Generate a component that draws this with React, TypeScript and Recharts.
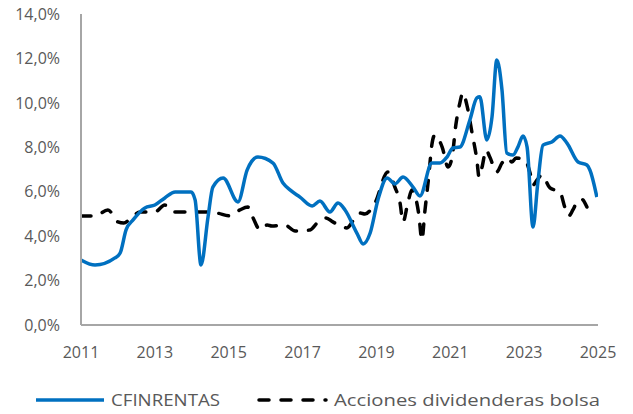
import React from 'react';
import { LineChart, Line, XAxis, YAxis, Legend } from 'recharts';

// CFINRENTAS (fecha en años decimales, rentabilidad %)
const fondoFechas = [
  2011.0, 2011.38, 2011.92, 2012.06, 2012.22, 2012.41, 2012.73, 2013.0, 2013.27, 2013.55,
  2013.98, 2014.09, 2014.25, 2014.44, 2014.57, 2014.85, 2015.25, 2015.5, 2015.79, 2016.2,
  2016.47, 2016.66, 2016.93, 2017.26, 2017.47, 2017.74, 2017.96, 2018.15, 2018.47, 2018.64,
  2018.83, 2019.04, 2019.29, 2019.5, 2019.72, 2019.99, 2020.18, 2020.5, 2020.72, 2020.91,
  2021.07, 2021.26, 2021.53, 2021.72, 2021.8, 2021.99, 2022.13, 2022.26, 2022.4, 2022.53,
  2022.7, 2022.83, 2022.97, 2023.08, 2023.24, 2023.37, 2023.51, 2023.75, 2023.97, 2024.16,
  2024.46, 2024.7, 2024.78, 2024.97,
];
const fondoValores = [
  2.93, 2.7, 3.02, 3.24, 4.28, 4.73, 5.27, 5.4, 5.72, 5.99,
  5.99, 5.63, 2.7, 4.86, 6.21, 6.62, 5.54, 6.98, 7.56, 7.29,
  6.39, 6.08, 5.76, 5.36, 5.58, 5.09, 5.49, 5.18, 4.14, 3.65,
  4.14, 5.63, 6.62, 6.35, 6.66, 6.21, 5.81, 7.29, 7.29, 7.56,
  7.97, 8.01, 9.23, 10.22, 10.27, 8.33, 9.37, 11.93, 10.58, 7.74,
  7.65, 8.01, 8.51, 8.01, 4.41, 6.39, 8.1, 8.24, 8.51, 8.19,
  7.34, 7.2, 6.98, 5.76,
];

// Acciones dividenderas bolsa
const accionesFechas = [
  2011.0, 2011.38, 2011.73, 2012.0, 2012.16, 2012.33, 2012.6, 2013.0, 2013.27, 2013.5,
  2013.98, 2014.28, 2014.68, 2015.03, 2015.3, 2015.52, 2015.66, 2015.85, 2016.04, 2016.17,
  2016.52, 2016.8, 2017.2, 2017.42, 2017.63, 2017.82, 2018.2, 2018.42, 2018.55, 2018.69,
  2018.96, 2019.31, 2019.5, 2019.64, 2019.72, 2019.85, 2019.96, 2020.04, 2020.15, 2020.23,
  2020.31, 2020.42, 2020.5, 2020.58, 2020.78, 2020.94, 2021.05, 2021.15, 2021.26, 2021.34,
  2021.45, 2021.59, 2021.72, 2021.78, 2021.86, 2021.97, 2022.07, 2022.26, 2022.4, 2022.56,
  2022.67, 2022.78, 2023.02, 2023.16, 2023.24, 2023.35, 2023.48, 2023.7, 2023.97, 2024.1,
  2024.21, 2024.32, 2024.43, 2024.55, 2024.7,
];
const accionesValores = [
  4.91, 4.91, 5.18, 4.64, 4.59, 4.77, 5.09, 5.09, 5.4, 5.09,
  5.09, 5.09, 5.04, 4.91, 5.18, 5.31, 4.82, 4.28, 4.5, 4.46,
  4.5, 4.23, 4.28, 4.64, 4.82, 4.64, 4.37, 4.82, 5.04, 5.0,
  5.49, 6.89, 6.21, 5.49, 4.64, 5.49, 6.08, 5.85, 4.95, 3.83,
  5.09, 6.75, 8.1, 8.55, 8.01, 7.11, 7.56, 9.0, 10.0, 10.45,
  9.9, 8.64, 7.43, 6.66, 7.11, 7.88, 7.56, 6.89, 7.29, 7.52,
  7.34, 7.52, 7.43, 6.84, 6.3, 6.53, 6.75, 6.17, 5.99, 5.31,
  4.91, 5.18, 5.54, 5.67, 5.31,
];

const yTicks = [0, 2, 4, 6, 8, 10, 12, 14];
const xTicks = [2011, 2013, 2015, 2017, 2019, 2021, 2023, 2025];

const fondoData = fondoFechas.map((x, i) => ({ x, v: fondoValores[i] }));
const accionesData = accionesFechas.map((x, i) => ({ x, v: accionesValores[i] }));

const FONT = '"Open Sans", sans-serif';
const GREY = '#595959';

const fmtPct = (v: number) => v.toFixed(1).replace('.', ',') + '%';

// leyenda propia: el ancho del texto se ajusta al original
const LegendContent = () => (
  <svg width={633} height={30} style={{ display: 'block' }}>
    <line x1={36} x2={104} y1={15} y2={15} stroke="#0070C0" strokeWidth={3.5} />
    <text x={111} y={21} fill={GREY} fontSize={17} fontFamily={FONT}
      textLength={109} lengthAdjust="spacingAndGlyphs">CFINRENTAS</text>
    <line x1={259} x2={326} y1={15} y2={15} stroke="#000" strokeWidth={3.5}
      strokeDasharray="10 12" strokeLinecap="round" />
    <text x={334} y={21} fill={GREY} fontSize={17} fontFamily={FONT}
      textLength={266} lengthAdjust="spacingAndGlyphs">Acciones dividenderas bolsa</text>
  </svg>
);

export default function App() {
  return (
    <div style={{ position: 'absolute', left: 0, top: 0, width: 633, height: 414, background: '#fff' }}>
      <LineChart width={633} height={414} margin={{ top: 14, right: 35, bottom: 0, left: 0 }}>
        <XAxis
          dataKey="x"
          type="number"
          domain={[2011, 2025]}
          ticks={xTicks}
          allowDataOverflow
          tickLine={false}
          tickSize={0}
          tickMargin={22}
          height={60}
          axisLine={{ stroke: '#A6A6A6', strokeWidth: 2 }}
          tick={{ fill: GREY, fontSize: 16, fontFamily: FONT }}
        />
        <YAxis
          type="number"
          domain={[0, 14]}
          ticks={yTicks}
          width={81}
          tickLine={false}
          tickSize={0}
          tickMargin={21}
          tickFormatter={fmtPct}
          axisLine={{ stroke: '#A6A6A6', strokeWidth: 2 }}
          tick={{ fill: GREY, fontSize: 16, fontFamily: FONT }}
        />
        <Legend verticalAlign="bottom" height={29} content={<LegendContent />}
          wrapperStyle={{ left: 0, width: 633 }} />
        <Line
          data={accionesData}
          dataKey="v"
          name="Acciones dividenderas bolsa"
          type="monotone"
          stroke="#000"
          strokeWidth={3.5}
          strokeDasharray="10 12"
          strokeLinecap="round"
          dot={false}
          activeDot={false}
          isAnimationActive={false}
        />
        <Line
          data={fondoData}
          dataKey="v"
          name="CFINRENTAS"
          type="monotone"
          stroke="#0070C0"
          strokeWidth={3.5}
          dot={false}
          activeDot={false}
          isAnimationActive={false}
        />
      </LineChart>
    </div>
  );
}
